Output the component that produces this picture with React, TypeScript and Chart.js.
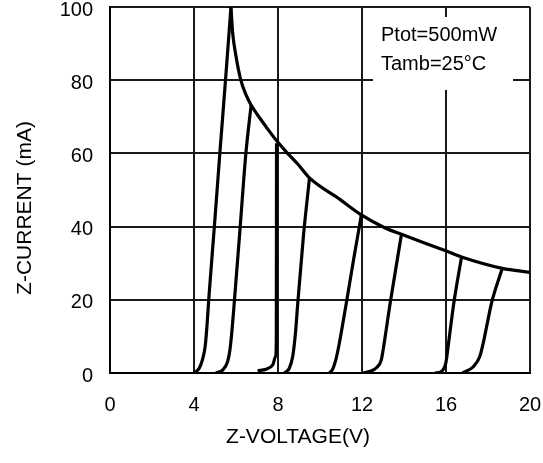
import React, { useEffect, useRef } from "react";
import { Chart, registerables } from "chart.js";

Chart.register(...registerables);

// Zener characteristic curves (Z-VOLTAGE in V, Z-CURRENT in mA)
const curve1V = [4.0, 4.25, 4.4, 4.53, 4.62, 4.7, 4.97, 5.23, 5.5, 5.76];
const curve1I = [0, 1.3, 3.6, 7.2, 13, 20, 40, 60, 80, 100];
const curve2V = [5.04, 5.36, 5.6, 5.71, 5.81, 5.92, 6.2, 6.47, 6.72];
const curve2I = [0, 0.8, 3.1, 6.3, 11.7, 19.4, 40, 60, 73.2];
const curve3V = [7.03, 7.43, 7.75, 7.88, 7.92, 7.93];
const curve3I = [0.6, 1, 2.2, 4.5, 9, 62.8];
const curve4V = [8.3, 8.54, 8.7, 8.83, 8.94, 9.22, 9.5];
const curve4I = [0, 1.3, 4.5, 10.8, 19, 38, 53.3];
const curve5V = [10.45, 10.6, 10.77, 10.9, 11.25, 11.6, 11.97];
const curve5I = [0, 1, 4.0, 7.5, 19, 31, 43.2];
const curve6V = [12.04, 12.4, 12.7, 12.92, 13.03, 13.35, 13.88];
const curve6I = [0, 0.5, 1.5, 3.6, 7.2, 19.4, 37.9];
const curve7V = [15.47, 15.78, 15.99, 16.1, 16.2, 16.38, 16.74];
const curve7I = [0, 0.4, 2.7, 7.2, 11.7, 19.4, 31.7];
const curve8V = [16.79, 17.3, 17.61, 17.77, 17.9, 18.18, 18.68];
const curve8I = [0, 1.7, 4.5, 8.1, 11.7, 19.4, 28.6];

// Power-limit curve (Ptot = 500 mW)
const limitV = [5.76, 5.84, 5.99, 6.23, 6.48, 6.72, 7.03, 7.43, 7.9, 8.38, 8.94, 9.5, 10.93, 11.97, 13.08, 13.88, 16.02, 16.74, 18.68, 20.0];
const limitI = [100, 93, 86.9, 80, 76, 73.2, 70.5, 67.3, 63.7, 60.5, 57.1, 53.3, 47.5, 43.2, 39.7, 37.9, 33.3, 31.7, 28.6, 27.5];

const xTicks = [0, 4, 8, 12, 16, 20];
const yTicks = [0, 20, 40, 60, 80, 100];

const xTitle = "Z-VOLTAGE(V)";
const yTitle = "Z-CURRENT (mA)";
const noteLines = ["Ptot=500mW", "Tamb=25°C"];

const FONT = "'Liberation Sans', Arial, sans-serif";

const curves: [number[], number[]][] = [
  [curve1V, curve1I],
  [curve2V, curve2I],
  [curve3V, curve3I],
  [curve4V, curve4I],
  [curve5V, curve5I],
  [curve6V, curve6I],
  [curve7V, curve7I],
  [curve8V, curve8I],
  [limitV, limitI],
];

const toPoints = (xs: number[], ys: number[]) => xs.map((x, i) => ({ x, y: ys[i] }));

const overlayPlugin = {
  id: "overlay",
  beforeDatasetsDraw(chart: any) {
    const ctx = chart.ctx;
    ctx.save();
    ctx.fillStyle = "#ffffff";
    ctx.fillRect(373, 17, 140, 73);
    ctx.restore();
  },
  afterDraw(chart: any) {
    const ctx = chart.ctx;
    ctx.save();
    ctx.fillStyle = "#000";
    ctx.textBaseline = "middle";
    ctx.font = `20px ${FONT}`;
    ctx.textAlign = "left";
    ctx.fillText(noteLines[0], 381, 35);
    ctx.fillText(noteLines[1], 381, 64);

    ctx.font = `21px ${FONT}`;
    ctx.textAlign = "center";
    ctx.fillText(xTitle, 298, 437);

    ctx.translate(25, 208);
    ctx.rotate(-Math.PI / 2);
    ctx.fillText(yTitle, 0, 0);
    ctx.restore();
  },
};

export default function App() {
  const ref = useRef<HTMLCanvasElement>(null);

  useEffect(() => {
    if (!ref.current) return;
    const chart = new Chart(ref.current, {
      type: "scatter",
      data: {
        datasets: curves.map(([xs, ys]) => ({
          data: toPoints(xs, ys),
          showLine: true,
          borderColor: "#000",
          borderWidth: 3.2,
          pointRadius: 0,
          cubicInterpolationMode: "monotone" as const,
          fill: false,
        })),
      },
      options: {
        animation: false,
        responsive: false,
        layout: { padding: { left: 0, right: 13, top: 7, bottom: 0 } },
        plugins: { legend: { display: false }, tooltip: { enabled: false } },
        scales: {
          x: {
            type: "linear",
            min: 0,
            max: 20,
            afterBuildTicks: (s: any) => {
              s.ticks = xTicks.map((v) => ({ value: v }));
            },
            afterFit: (s: any) => {
              s.height = 90;
              s.paddingLeft = 0;
              s.paddingRight = 0;
            },
            ticks: { color: "#000", font: { size: 20, family: FONT }, padding: 20, maxRotation: 0 },
            grid: { color: "#1a1a1a", lineWidth: 2, drawTicks: false },
            border: { color: "#000", width: 2 },
          },
          y: {
            type: "linear",
            min: 0,
            max: 100,
            afterBuildTicks: (s: any) => {
              s.ticks = yTicks.map((v) => ({ value: v }));
            },
            afterFit: (s: any) => {
              s.width = 110;
              s.paddingTop = 0;
              s.paddingBottom = 0;
            },
            ticks: { color: "#000", font: { size: 20, family: FONT }, padding: 17, labelOffset: 3 },
            grid: { color: "#1a1a1a", lineWidth: 2, drawTicks: false },
            border: { color: "#000", width: 2 },
          },
        },
      },
      plugins: [overlayPlugin],
    });
    return () => chart.destroy();
  }, []);

  return (
    <div style={{ position: "fixed", left: 0, top: 0, width: 543, height: 463, background: "#fff" }}>
      <canvas ref={ref} width={543} height={463} style={{ display: "block" }} />
    </div>
  );
}
